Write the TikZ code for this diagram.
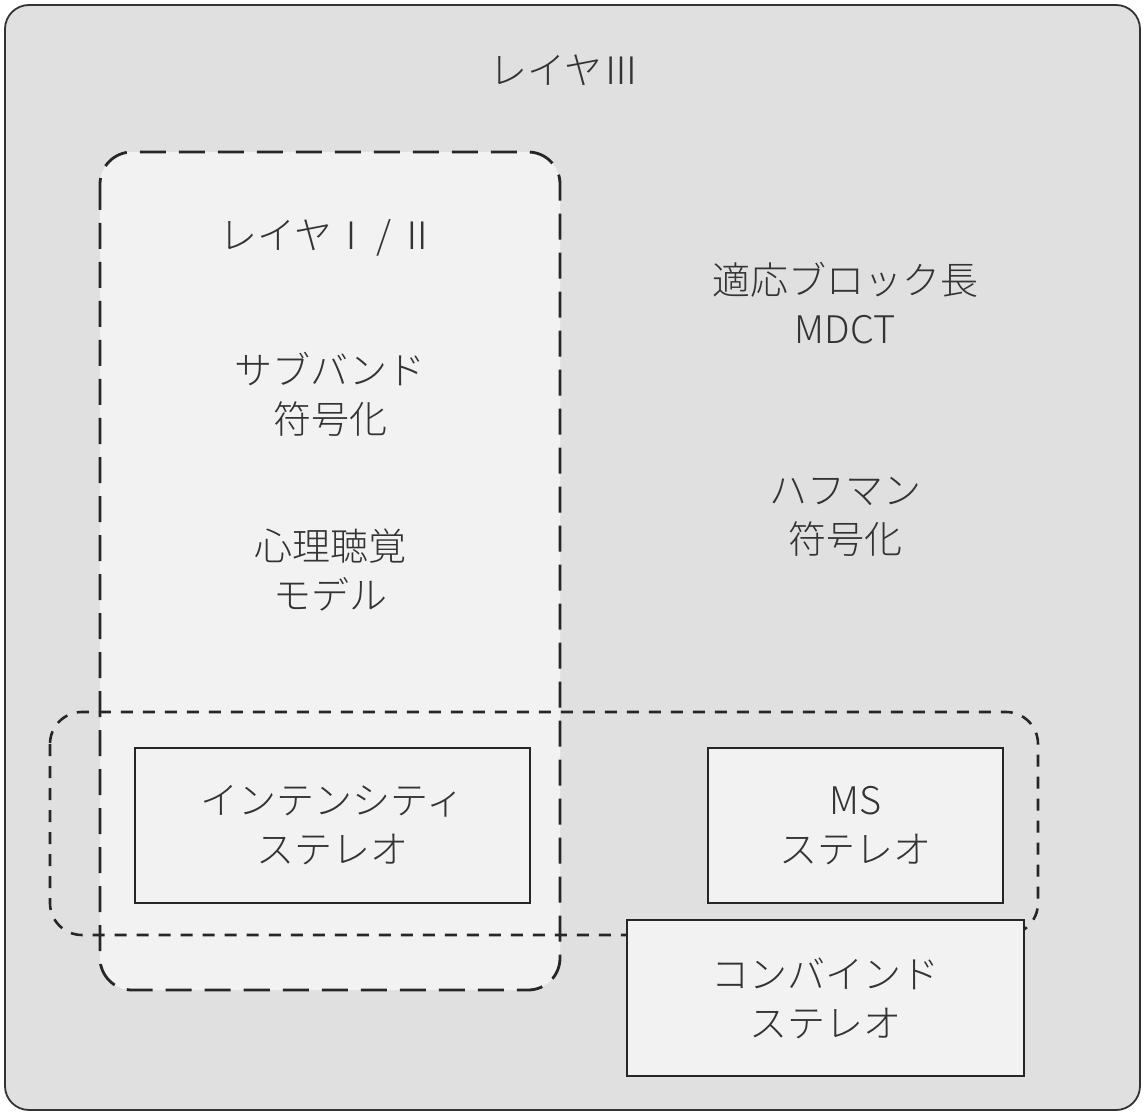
\documentclass[tikz,border=0pt]{standalone}
\usepackage{fontspec}
\newfontfamily\jp{Noto Sans CJK JP Light}
\begin{document}
\begin{tikzpicture}[x=1pt,y=-1pt,
  lbl/.style={font=\jp\fontsize{38}{49}\selectfont, text=black!80, align=center, inner sep=0pt},
  stereobox/.style={draw=black!85, line width=2.5pt, fill=black!5, lbl},
  longdash/.style={draw=black!85, line width=2.8pt, dash pattern=on 26pt off 13pt, rounded corners=32pt},
  shortdash/.style={draw=black!85, line width=2.6pt, dash pattern=on 12pt off 10pt, rounded corners=32pt}]
\useasboundingbox (0,0) rectangle (1144,1115);
\fill[white] (0,0) rectangle (1144,1115);
% outer frame (Layer III)
\draw[draw=black!80, line width=1.8pt, fill=black!12, rounded corners=24pt] (5,5) rectangle (1140,1110);
% Layer I/II region
\fill[black!5, rounded corners=32pt] (100,152) rectangle (560,990);
\draw[longdash] (100,152) rectangle (560,990);
% stereo region
\draw[shortdash] (50,712) rectangle (1038,935);
% labels
\node[lbl] (l3) at (565,70) {レイヤⅢ};
\node[lbl] (l12) at (328,238) {レイヤⅠ\,/\,Ⅱ};
\node[lbl] (sb) at (330,394) {サブバンド\\符号化};
\node[lbl] (pm) at (330,570) {心理聴覚\\モデル};
\node[lbl] (mdct) at (845,303) {適応ブロック長\\MDCT};
\node[lbl] (huff) at (845,517) {ハフマン\\符号化};
% stereo boxes
\node[stereobox, minimum width=395pt, minimum height=155pt] (is) at (332.5,825.5) {インテンシティ\\ステレオ};
\node[stereobox, minimum width=295pt, minimum height=155pt] (ms) at (855.5,825.5) {MS\\ステレオ};
\node[stereobox, minimum width=397pt, minimum height=156pt] (cs) at (825.5,998) {コンバインド\\ステレオ};
\end{tikzpicture}
\end{document}
